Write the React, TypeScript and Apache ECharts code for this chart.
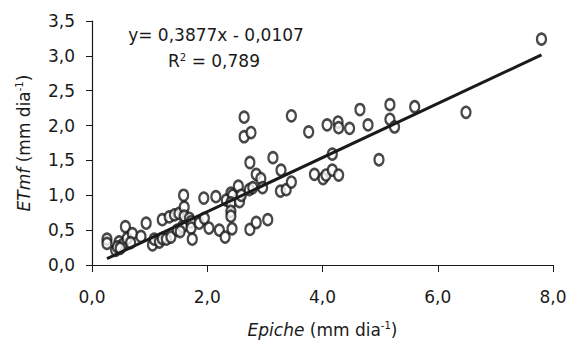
import React, { useEffect, useRef } from "react";
import * as echarts from "echarts";

// Epiche (mm dia-1) values
const epiche = [
  0.26, 0.26, 0.41, 0.47, 0.53, 0.44, 0.49, 0.58, 0.61, 0.70,
  0.67, 0.85, 0.94, 1.05, 1.08, 1.17, 1.22, 1.22, 1.29, 1.37,
  1.34, 1.43, 1.51, 1.59, 1.60, 1.60, 1.48, 1.57, 1.53, 1.69,
  1.72, 1.72, 1.74, 1.86, 1.95, 1.94, 2.03, 2.15, 2.21, 2.31,
  2.43, 2.41, 2.33, 2.44, 2.41, 2.41, 2.41, 2.54, 2.56, 2.59,
  2.73, 2.79, 2.74, 2.85, 3.05, 2.64, 2.64, 2.76, 2.74, 2.85,
  2.93, 2.96, 3.14, 3.28, 3.27, 3.37, 3.46, 3.46, 3.76, 3.86,
  4.01, 4.06, 4.17, 4.28, 4.17, 4.08, 4.27, 4.28, 4.47, 4.65,
  4.79, 4.98, 5.17, 5.17, 5.25, 5.60, 6.49, 7.80,
];
// ETmf (mm dia-1) values
const etmf = [
  0.37, 0.31, 0.21, 0.33, 0.29, 0.26, 0.24, 0.55, 0.38, 0.45,
  0.32, 0.41, 0.60, 0.29, 0.37, 0.33, 0.65, 0.38, 0.37, 0.40,
  0.69, 0.72, 0.74, 1.00, 0.83, 0.70, 0.50, 0.55, 0.48, 0.67,
  0.62, 0.53, 0.37, 0.60, 0.67, 0.96, 0.53, 0.98, 0.50, 0.40,
  0.52, 1.03, 0.93, 1.00, 0.89, 0.77, 0.70, 1.13, 0.91, 1.00,
  1.08, 1.11, 0.51, 0.61, 0.65, 2.12, 1.84, 1.90, 1.47, 1.30,
  1.24, 1.11, 1.54, 1.36, 1.06, 1.08, 1.19, 2.14, 1.91, 1.30,
  1.24, 1.29, 1.36, 1.29, 1.59, 2.01, 2.05, 1.97, 1.96, 2.23,
  2.01, 1.51, 2.30, 2.09, 1.98, 2.27, 2.19, 3.24,
];

const slope = 0.3877;
const intercept = -0.0107;
const rSquared = "0,789";

const FONT = "DejaVu Sans";
const INK = "#1a1a1a";

const fmt = (v: number) => v.toFixed(1).replace(".", ",");

export default function App() {
  const ref = useRef<HTMLDivElement>(null);
  useEffect(() => {
    if (!ref.current) return;
    const chart = echarts.init(ref.current, undefined, { renderer: "svg" });
    const points = epiche.map((x, i) => [x, etmf[i]]);
    const xMin = Math.min(...epiche);
    const xMax = Math.max(...epiche);
    const fit = [
      [xMin, slope * xMin + intercept],
      [xMax, slope * xMax + intercept],
    ];
    const eqText =
      "y= " +
      slope.toFixed(4).replace(".", ",") +
      "x - " +
      Math.abs(intercept).toFixed(4).replace(".", ",");
    const richSup = {
      i: { fontStyle: "italic", fontFamily: FONT, fontSize: 17, color: INK, lineHeight: 20 },
      s: { fontSize: 10, fontFamily: FONT, color: INK, verticalAlign: "top", lineHeight: 10 },
    };
    chart.setOption({
      animation: false,
      backgroundColor: "#ffffff",
      grid: { left: 92, right: 28, top: 21, bottom: 80 },
      xAxis: {
        type: "value",
        min: 0,
        max: 8,
        interval: 2,
        splitLine: { show: false },
        axisLine: { show: true, lineStyle: { color: INK, width: 1.2 } },
        axisTick: { show: true, length: 7, lineStyle: { color: INK } },
        axisLabel: {
          formatter: fmt,
          color: INK,
          fontFamily: FONT,
          fontSize: 17,
          margin: 23,
        },
        name: "{i|Epiche} (mm dia{s|-1})",
        nameLocation: "middle",
        nameGap: 55,
        nameTextStyle: {
          color: INK,
          fontFamily: FONT,
          fontSize: 17,
          lineHeight: 20,
          rich: richSup,
        },
      },
      yAxis: {
        type: "value",
        min: 0,
        max: 3.5,
        interval: 0.5,
        splitLine: { show: false },
        axisLine: { show: true, lineStyle: { color: INK, width: 1.2 } },
        axisTick: { show: true, length: 6, lineStyle: { color: INK } },
        axisLabel: {
          formatter: fmt,
          color: INK,
          fontFamily: FONT,
          fontSize: 17,
          margin: 17,
        },
        name: "{i|ETmf} (mm dia{s|-1})",
        nameLocation: "middle",
        nameGap: 58,
        nameTextStyle: {
          color: INK,
          fontFamily: FONT,
          fontSize: 17,
          lineHeight: 20,
          rich: richSup,
        },
      },
      graphic: [
        {
          type: "text",
          x: 216,
          y: 35,
          style: {
            text: eqText,
            fill: INK,
            font: `17px "${FONT}"`,
            align: "center",
            verticalAlign: "middle",
          },
        },
        {
          type: "text",
          x: 214,
          y: 61,
          style: {
            text: "R{s|2} = " + rSquared,
            fill: INK,
            font: `17px "${FONT}"`,
            align: "center",
            verticalAlign: "middle",
            rich: {
              s: { fontSize: 10, fontFamily: FONT, fill: INK, verticalAlign: "top", lineHeight: 10 },
            },
          },
        },
      ],
      series: [
        {
          type: "scatter",
          data: points,
          symbol: "circle",
          symbolSize: [9, 11],
          itemStyle: { color: "#ffffff", borderColor: INK, borderWidth: 2.4 },
          z: 2,
        },
        {
          type: "line",
          data: fit,
          symbol: "none",
          lineStyle: { color: INK, width: 3 },
          z: 3,
        },
      ],
    });
    return () => chart.dispose();
  }, []);
  return (
    <div
      ref={ref}
      style={{ position: "fixed", left: 0, top: 0, width: 581, height: 345, background: "#fff" }}
    />
  );
}
